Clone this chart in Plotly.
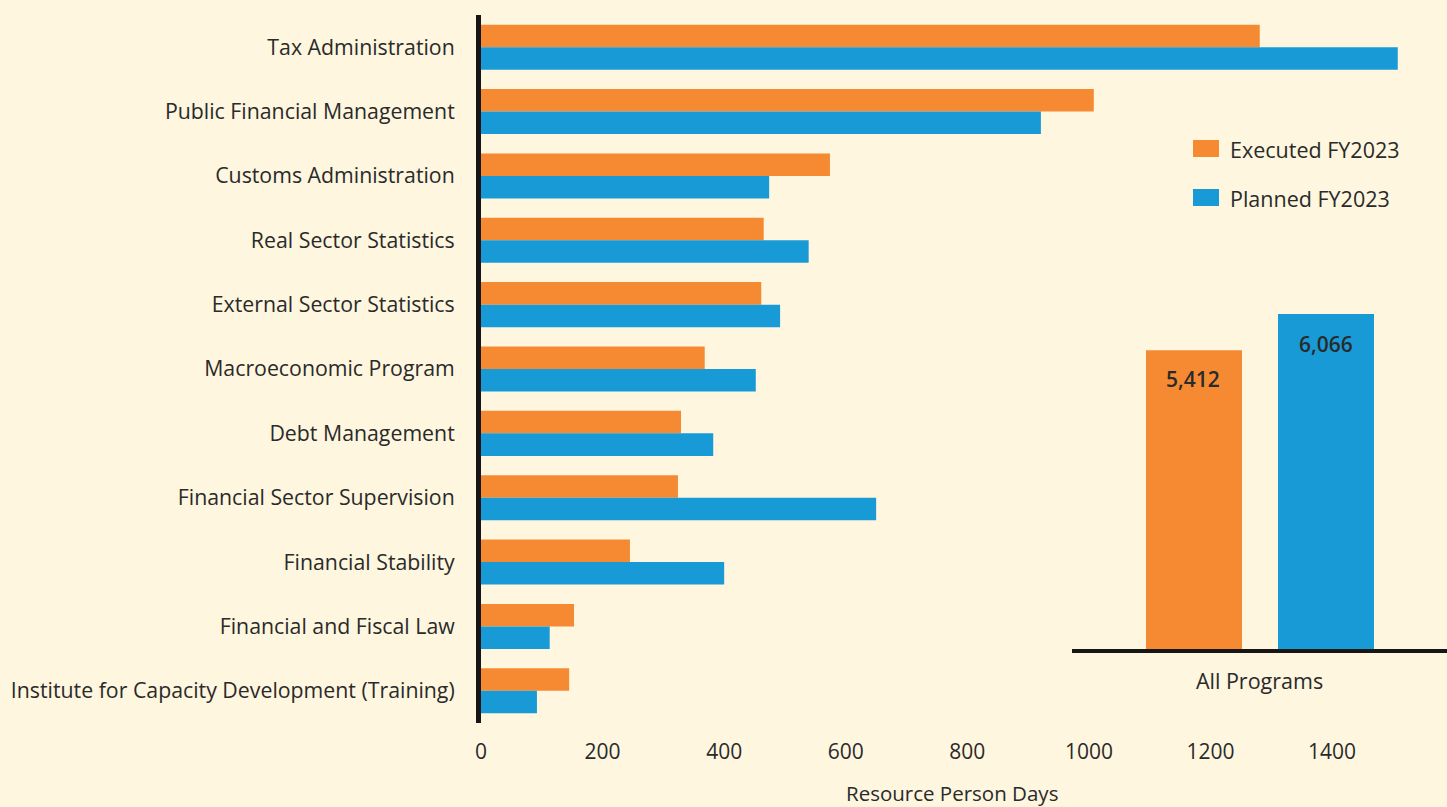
import plotly.graph_objects as go

categories = [
    "Tax Administration",
    "Public Financial Management",
    "Customs Administration",
    "Real Sector Statistics",
    "External Sector Statistics",
    "Macroeconomic Program",
    "Debt Management",
    "Financial Sector Supervision",
    "Financial Stability",
    "Financial and Fiscal Law",
    "Institute for Capacity Development (Training)",
]
executed = [1281, 1008, 574, 465, 461, 368, 329, 324, 245, 153, 145]
planned = [1508, 921, 474, 539, 492, 452, 382, 650, 400, 113, 92]

total_category = ["All Programs"]
total_executed = [5412]
total_planned = [6066]
series_names = ["Executed FY2023", "Planned FY2023"]
x_ticks = [0, 200, 400, 600, 800, 1000, 1200, 1400]

ORANGE = "#F58A33"
BLUE = "#189AD6"
BG = "#FEF6DE"
TXT = "#2a2a2a"
FONT = "Open Sans"

fig = go.Figure()
fig.add_trace(go.Bar(y=categories, x=executed, orientation="h", name=series_names[0],
                     marker=dict(color=ORANGE, line=dict(width=0)), showlegend=False))
fig.add_trace(go.Bar(y=categories, x=planned, orientation="h", name=series_names[1],
                     marker=dict(color=BLUE, line=dict(width=0)), showlegend=False))

# inset totals
fig.add_trace(go.Bar(x=total_category, y=total_executed, xaxis="x2", yaxis="y2",
                     width=0.256, offset=-0.3027, marker=dict(color=ORANGE, line=dict(width=0)),
                     showlegend=False))
fig.add_trace(go.Bar(x=total_category, y=total_planned, xaxis="x2", yaxis="y2",
                     width=0.256, offset=0.0493, marker=dict(color=BLUE, line=dict(width=0)),
                     showlegend=False))

annotations = [
    dict(x=-0.177, y=total_executed[0], xref="x2", yref="y2", text="5,412",
         showarrow=False, yshift=-29, font=dict(size=21, color=TXT, family=FONT, weight=600)),
    dict(x=0.176, y=total_planned[0], xref="x2", yref="y2", text="6,066",
         showarrow=False, yshift=-30, font=dict(size=21, color=TXT, family=FONT, weight=600)),
    dict(x=0.4876, y=0, xref="paper", yref="paper", text="Resource Person Days",
         showarrow=False, yshift=-70, yanchor="middle", font=dict(size=20.5, color=TXT, family=FONT)),
]

W, H = 1447, 807
L, R, T, B = 481, 0, 15, 84
pw, ph = W - L - R, H - T - B

def px(xp):
    return (xp - L) / pw

def py(yp):
    return (H - B - yp) / ph

shapes = []
leg = [(series_names[0], ORANGE, 148.5), (series_names[1], BLUE, 197.5)]
for name, col, yc in leg:
    shapes.append(dict(type="rect", xref="paper", yref="paper",
                       x0=px(1193), x1=px(1219), y0=py(yc + 8.5), y1=py(yc - 8.5),
                       fillcolor=col, line=dict(width=0)))
    annotations.append(dict(x=px(1228), y=py(yc + 1), xref="paper", yref="paper", text=name,
                            showarrow=False, xanchor="left", yanchor="middle",
                            font=dict(size=21.5, color=TXT, family=FONT)))

fig.update_layout(
    width=W, height=H,
    margin=dict(l=L, r=R, t=T, b=B),
    paper_bgcolor=BG, plot_bgcolor=BG,
    barmode="group", bargap=0.3, bargroupgap=0,
    font=dict(family=FONT, size=21, color=TXT),
    xaxis=dict(range=[0, 1589], tickvals=x_ticks, showgrid=False, zeroline=False,
               showline=False, ticks="outside", ticklen=10, tickcolor="rgba(0,0,0,0)",
               tickfont=dict(size=21, color=TXT), domain=[0, 1]),
    yaxis=dict(autorange="reversed", showgrid=False, zeroline=False, showline=True,
               linewidth=5, linecolor="#161616", ticks="outside", ticklen=17,
               tickcolor="rgba(0,0,0,0)", tickfont=dict(size=21.3, color=TXT)),
    xaxis2=dict(domain=[px(1072), 1.0], anchor="y2", showline=True, linewidth=4,
                linecolor="#161616", showgrid=False, zeroline=False, range=[-0.5, 0.5],
                ticks="outside", ticklen=10, tickcolor="rgba(0,0,0,0)",
                tickfont=dict(size=21.5, color=TXT)),
    yaxis2=dict(domain=[py(649), py(262.5)], anchor="x2", range=[0, 7000], visible=False),
    annotations=annotations,
    shapes=shapes,
)

fig.write_html(
    "out.html",
    config={"displayModeBar": False},
    post_script="document.body.style.margin='0';document.body.style.background='#FEF6DE';",
)
